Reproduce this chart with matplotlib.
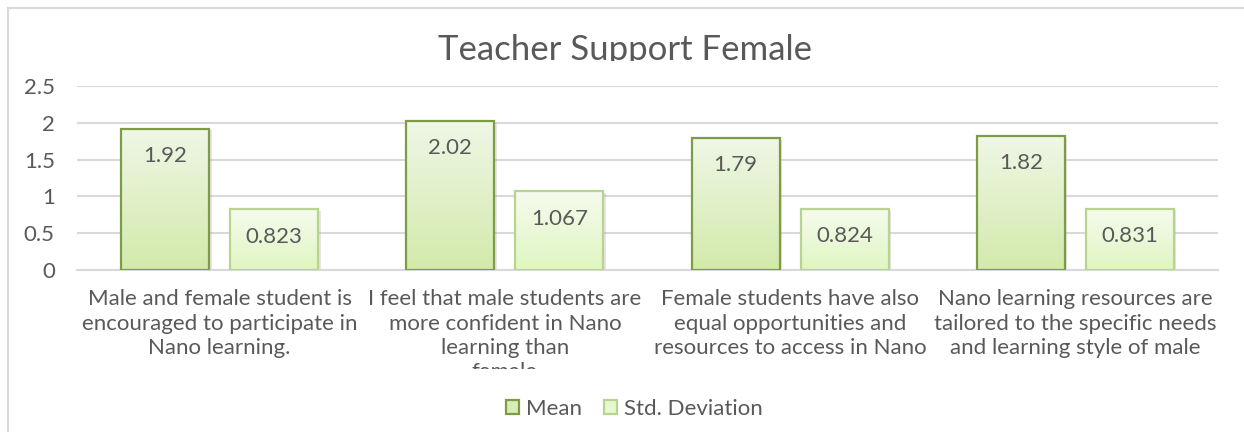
import numpy as np
import matplotlib
matplotlib.use("Agg")
import matplotlib.pyplot as plt
from matplotlib.patches import Patch, Rectangle
from matplotlib.transforms import Bbox, TransformedBbox, offset_copy
from matplotlib.colors import LinearSegmentedColormap

plt.rcParams['font.family'] = ['Lato', 'DejaVu Sans']

title = "Teacher Support Female"
categories = [
    "Male and female student is\nencouraged to participate in\nNano learning.",
    "I feel that male students are\nmore confident in Nano\nlearning than\nfemale",
    "Female students have also\nequal opportunities and\nresources to access in Nano",
    "Nano learning resources are\ntailored to the specific needs\nand learning style of male",
]
mean_vals = [1.92, 2.02, 1.79, 1.82]
std_vals = [0.823, 1.067, 0.824, 0.831]
mean_labels = ["1.92", "2.02", "1.79", "1.82"]
std_labels = ["0.823", "1.067", "0.824", "0.831"]
series_names = ["Mean", "Std. Deviation"]
yticks = [0, 0.5, 1, 1.5, 2, 2.5]
ytick_labels = ["0", "0.5", "1", "1.5", "2", "2.5"]

TXT = "#595959"
GRID = "#d9d9d9"
mean_edge = "#7c9c45"
std_edge = "#b9d48f"
mean_top, mean_bot = "#eff7e6", "#d2eaab"
std_top, std_bot = "#f6fbee", "#dff6c2"

fig = plt.figure(figsize=(12.44, 4.32), dpi=100)
W, H = 1244, 432
ax = fig.add_axes([77 / W, (H - 270) / H, (1218 - 77) / W, (270 - 86) / H])

# outer chart frame (top and left visible)
fig.add_artist(plt.Line2D([8 / W, 1.0], [(H - 8) / H, (H - 8) / H], color=GRID, lw=1.5))
fig.add_artist(plt.Line2D([8 / W, 8 / W], [0, (H - 8) / H], color=GRID, lw=1.5))

x = np.arange(len(categories))
bw = 0.309
off = 0.191

mbars = ax.bar(x - off, mean_vals, bw)
sbars = ax.bar(x + off, std_vals, bw)

def style_bars(bars, top, bot, edge):
    cmap = LinearSegmentedColormap.from_list("g", [bot, top])
    grad = np.linspace(0, 1, 256).reshape(-1, 1)
    shadow_tr = offset_copy(ax.transData, fig=fig, x=2.5, y=-1.5, units="dots")
    for b in bars:
        x0, y0 = b.get_x(), b.get_y()
        w, h = b.get_width(), b.get_height()
        ax.add_patch(Rectangle((x0, y0), w, h, transform=shadow_tr, facecolor="#9a9a9a",
                               edgecolor="none", alpha=0.25, zorder=2))
        ax.imshow(grad, cmap=cmap, extent=[x0, x0 + w, y0, y0 + h],
                  origin="lower", aspect="auto", zorder=3)
        b.set_facecolor("none")
        b.set_edgecolor(edge)
        b.set_linewidth(1.6)
        b.set_zorder(4)

style_bars(mbars, mean_top, mean_bot, mean_edge)
style_bars(sbars, std_top, std_bot, std_edge)

for xi, v, s in zip(x - off, mean_vals, mean_labels):
    ax.annotate(s, (xi, v), xytext=(0, -19.5), textcoords="offset points",
                ha="center", va="center", fontsize=16, color=TXT, zorder=5)
for xi, v, s in zip(x + off, std_vals, std_labels):
    ax.annotate(s, (xi, v), xytext=(0, -19.5), textcoords="offset points",
                ha="center", va="center", fontsize=16, color=TXT, zorder=5)

ax.set_xlim(-0.5, len(categories) - 0.5)
ax.set_ylim(0, 2.5)
ax.set_yticks(yticks, ytick_labels)
ax.yaxis.grid(True, color=GRID, lw=1.5, zorder=0)
ax.set_axisbelow(True)
for sp in ["top", "right", "left"]:
    ax.spines[sp].set_visible(False)
ax.spines["bottom"].set_color(GRID)
ax.spines["bottom"].set_linewidth(1.5)
ax.tick_params(axis="y", length=0, pad=16, labelsize=16, labelcolor=TXT)
ax.tick_params(axis="x", length=0, pad=14, labelsize=16, labelcolor=TXT)
ax.set_xticks(x, categories, linespacing=1.27, va="top")

# clip the category labels like the original
clipbox = TransformedBbox(Bbox([[0, (H - 369) / H], [1, 1]]), fig.transFigure)
for lbl in ax.get_xticklabels():
    lbl.set_clip_on(True)
    lbl.set_clip_box(clipbox)

t = fig.text(625 / W, (H - 60) / H, title, ha="center", va="baseline",
             fontsize=25, color=TXT)
t.set_clip_on(True)
t.set_clip_box(TransformedBbox(Bbox([[0, (H - 61) / H], [1, 1]]), fig.transFigure))

handles = [Patch(facecolor="#d8edb8", edgecolor=mean_edge, lw=1.6),
           Patch(facecolor="#e6f8cf", edgecolor=std_edge, lw=1.6)]
fig.legend(handles, series_names, loc="center", bbox_to_anchor=(634 / W, 23 / H),
           ncol=2, frameon=False, fontsize=16, labelcolor=TXT,
           handlelength=0.6, handleheight=0.6, handletextpad=0.3, columnspacing=1.0)

fig.savefig("out.png", dpi=100)
